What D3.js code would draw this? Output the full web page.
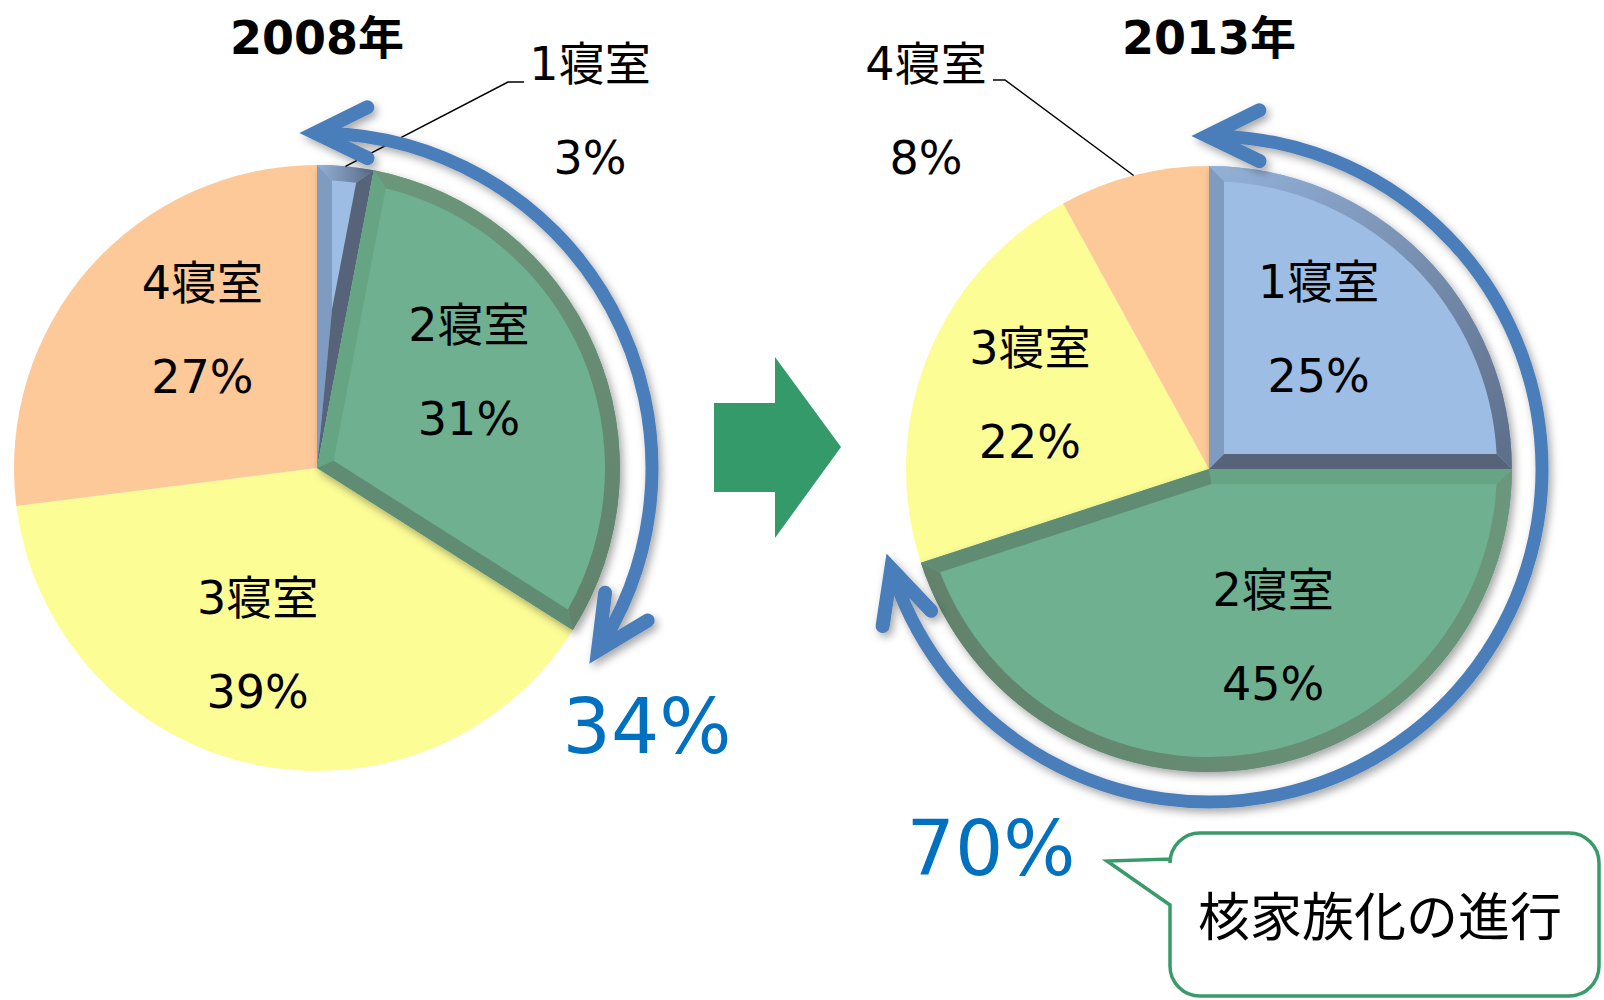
<!DOCTYPE html>
<html>
<head>
<meta charset="utf-8">
<script src="https://cdn.jsdelivr.net/npm/d3@7"></script>
<style>
  body { margin: 0; background: #fff; }
  svg { display: block; }
  text { font-family: "DejaVu Sans", "Noto Sans CJK JP", sans-serif; }
</style>
</head>
<body>
<svg id="chart" width="1604" height="1000"></svg>
<script>
// ---- data ----
var categories = ["1寝室", "2寝室", "3寝室", "4寝室"];
var years = ["2008年", "2013年"];
var share2008 = [3, 31, 39, 27];
var share2013 = [25, 45, 22, 8];
var calloutText = "核家族化の進行";

// ---- layout ----
var colors = ["#9dbde4", "#6eb08f", "#fdfd96", "#fdc998"];
var bevelColors = {
    "1寝室": {start: "#7f9bbf", arc0: "#93b1d8", arc1: "#5c6d88", end: "#566479"},
    "2寝室": {start: "#65a584", arc0: "#6c977b", arc1: "#62826c", end: "#5f8c72"}
};
var R = 303, bevel = 15;
var pies = [
    {year: years[0], values: share2008, cx: 317, cy: 468, arrowR: 335,
     // angle shift (deg) and radius for inside labels, null = outside label
     labelShift: [null, -9, 6, 9], labelR: [0, 180, 186, 180],
     outside: {idx: 0, x: 590, y: 63, elbow: [508, 82], end: [524, 82]}},
    {year: years[1], values: share2013, cx: 1209, cy: 469, arrowR: 333,
     labelShift: [-7, -12, 1, null], labelR: [178, 179, 194, 0],
     outside: {idx: 3, x: 926, y: 63, elbow: [1005, 80], end: [993, 80]}}
];

var svg = d3.select("#chart");
var defs = svg.append("defs");

var shadow = defs.append("filter").attr("id", "shadow")
    .attr("x", "-20%").attr("y", "-20%").attr("width", "140%").attr("height", "140%");
shadow.append("feDropShadow").attr("dx", 3).attr("dy", 4)
    .attr("stdDeviation", 4).attr("flood-color", "#000").attr("flood-opacity", 0.35);

var pie = d3.pie().sort(null).value(function(d) { return d; });
var arc = d3.arc().innerRadius(0).outerRadius(R);

function pt(r, a) { return [r * Math.sin(a), -r * Math.cos(a)]; }

// bevel bands of a slice (start edge, end edge, outer rim)
function bevelBands(a0, a1) {
    var th = a1 - a0, m = (a0 + a1) / 2;
    var P = pt(bevel / Math.sin(th / 2), m);
    var t = Math.sqrt((R - bevel) * (R - bevel) - bevel * bevel);
    var I0 = [bevel * Math.cos(a0) + t * Math.sin(a0), bevel * Math.sin(a0) - t * Math.cos(a0)];
    var I1 = [-bevel * Math.cos(a1) + t * Math.sin(a1), -bevel * Math.sin(a1) - t * Math.cos(a1)];
    var O0 = pt(R, a0), O1 = pt(R, a1);
    var large = th > Math.PI ? 1 : 0;
    var ri = R - bevel;
    return {
        O0: O0, O1: O1,
        start: "M0,0L" + O0 + "L" + I0 + "L" + P + "Z",
        end: "M0,0L" + P + "L" + I1 + "L" + O1 + "Z",
        arc: "M" + O0 + "A" + R + "," + R + " 0 " + large + " 1 " + O1 +
             "L" + I1 + "A" + ri + "," + ri + " 0 " + large + " 0 " + I0 + "Z"
    };
}

pies.forEach(function(p, pi) {
    var arcs = pie(p.values);
    var g = svg.append("g").attr("transform", "translate(" + p.cx + "," + p.cy + ")");

    // flat slices
    g.selectAll("path.flat")
        .data(arcs.filter(function(d, i) { return !bevelColors[categories[i]]; }))
        .enter().append("path")
        .attr("class", "flat")
        .attr("d", arc)
        .attr("fill", function(d) { return colors[d.index]; });

    // bevelled slices (1 and 2 bedrooms)
    var bg = g.append("g").attr("filter", "url(#shadow)");
    arcs.forEach(function(d, i) {
        var bc = bevelColors[categories[i]];
        if (!bc) return;
        var s = bg.append("g");
        s.append("path").attr("d", arc(d)).attr("fill", colors[i]);
        var bands = bevelBands(d.startAngle, d.endAngle);
        var gid = "rim" + pi + "_" + i;
        var lg = defs.append("linearGradient").attr("id", gid)
            .attr("gradientUnits", "userSpaceOnUse")
            .attr("x1", bands.O0[0]).attr("y1", bands.O0[1])
            .attr("x2", bands.O1[0]).attr("y2", bands.O1[1]);
        lg.append("stop").attr("offset", "0%").attr("stop-color", bc.arc0);
        lg.append("stop").attr("offset", "100%").attr("stop-color", bc.arc1);
        s.append("path").attr("d", bands.arc).attr("fill", "url(#" + gid + ")");
        s.append("path").attr("d", bands.start).attr("fill", bc.start);
        s.append("path").attr("d", bands.end).attr("fill", bc.end);
    });

    // inside labels
    arcs.forEach(function(d, i) {
        if (p.labelShift[i] === null) return;
        var a = (d.startAngle + d.endAngle) / 2 + p.labelShift[i] * Math.PI / 180;
        var c = pt(p.labelR[i], a);
        g.append("text").attr("x", c[0]).attr("y", c[1] - 47).attr("dy", "0.36em")
            .attr("text-anchor", "middle").attr("font-size", 46).attr("fill", "#000")
            .text(categories[i]);
        g.append("text").attr("x", c[0]).attr("y", c[1] + 47).attr("dy", "0.36em")
            .attr("text-anchor", "middle").attr("font-size", 46).attr("fill", "#000")
            .text(p.values[i] + "%");
    });

    // outside label with leader line
    var o = p.outside, od = arcs[o.idx];
    var lp = pt(R, (od.startAngle + od.endAngle) / 2);
    svg.append("polyline")
        .attr("points", [[p.cx + lp[0], p.cy + lp[1]], o.elbow, o.end].join(" "))
        .attr("fill", "none").attr("stroke", "#000").attr("stroke-width", 1.5);
    svg.append("text").attr("x", o.x).attr("y", o.y).attr("dy", "0.36em")
        .attr("text-anchor", "middle").attr("font-size", 46).text(categories[o.idx]);
    svg.append("text").attr("x", o.x).attr("y", o.y + 94).attr("dy", "0.36em")
        .attr("text-anchor", "middle").attr("font-size", 46).text(p.values[o.idx] + "%");

    // title
    svg.append("text").attr("x", p.cx).attr("y", 37).attr("dy", "0.36em")
        .attr("text-anchor", "middle").attr("font-size", 46).attr("font-weight", "bold")
        .text(p.year);

    // curved double arrow over 1+2 bedrooms
    var a0 = 0, a1 = arcs[1].endAngle;
    var ag = svg.append("g").attr("filter", "url(#shadow)")
        .attr("transform", "translate(" + p.cx + "," + p.cy + ")")
        .attr("fill", "none").attr("stroke", "#4a7ebb");
    var path = d3.path();
    var gap = 0.03;
    path.arc(0, 0, p.arrowR, a0 - Math.PI / 2 + gap, a1 - Math.PI / 2 + 0.01 - gap, false);
    ag.append("path").attr("d", path.toString()).attr("stroke-width", 13);
    function head(a, dir) {
        var tip = pt(p.arrowR, a);
        var d0 = [dir * Math.cos(a), dir * Math.sin(a)];
        var L = 58, h = 26 * Math.PI / 180;
        function arm(s) {
            var c = Math.cos(s * h), sn = Math.sin(s * h);
            return [tip[0] - L * (d0[0] * c - d0[1] * sn), tip[1] - L * (d0[0] * sn + d0[1] * c)];
        }
        ag.append("polyline").attr("points", [arm(1), tip, arm(-1)].join(" "))
            .attr("stroke-width", 14).attr("stroke-linejoin", "miter")
            .attr("stroke-miterlimit", 10).attr("stroke-linecap", "round");
    }
    head(a0 - 0.005, -1);
    head(a1 + 0.01, 1);
    p.bracket = d3.sum(p.values.slice(0, 2)) + "%";
});

// bracket totals
svg.append("text").attr("x", 647).attr("y", 753).attr("font-size", 76)
    .attr("text-anchor", "middle").attr("fill", "#0070c0").text(pies[0].bracket);
svg.append("text").attr("x", 991).attr("y", 875).attr("font-size", 76)
    .attr("text-anchor", "middle").attr("fill", "#0070c0").text(pies[1].bracket);

// green block arrow between pies
svg.append("path")
    .attr("d", "M714,403H775V357L841,447L775,538V492H714Z")
    .attr("fill", "#359a69");

// callout
var x0 = 1170, y0 = 833, x1 = 1599, y1 = 996, r = 30;
svg.append("path")
    .attr("d", "M" + (x0 + r) + "," + y0 + "H" + (x1 - r) +
        "A" + r + "," + r + " 0 0 1 " + x1 + "," + (y0 + r) +
        "V" + (y1 - r) + "A" + r + "," + r + " 0 0 1 " + (x1 - r) + "," + y1 +
        "H" + (x0 + r) + "A" + r + "," + r + " 0 0 1 " + x0 + "," + (y1 - r) +
        "V905L1107,861L" + x0 + ",859V" + (y0 + r) +
        "A" + r + "," + r + " 0 0 1 " + (x0 + r) + "," + y0 + "Z")
    .attr("fill", "#fff").attr("stroke", "#3a9a6a").attr("stroke-width", 3.5);
svg.append("text").attr("x", 1380).attr("y", 917).attr("dy", "0.36em")
    .attr("text-anchor", "middle").attr("font-size", 52)
    .attr("font-family", "'Noto Sans CJK JP', sans-serif").text(calloutText);
</script>
</body>
</html>
